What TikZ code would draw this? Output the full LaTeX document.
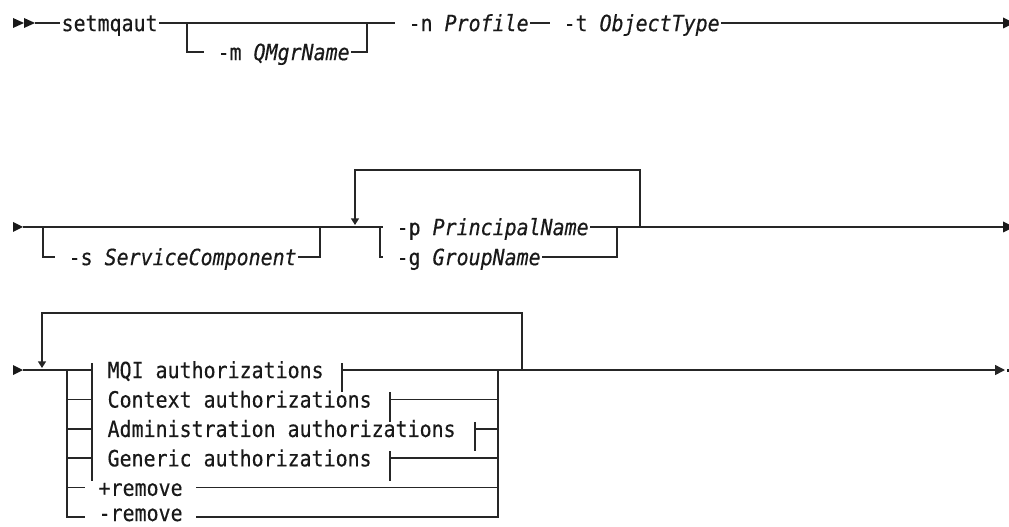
\documentclass[tikz,border=0pt]{standalone}
\usepackage{fontspec}
\setmonofont[FakeStretch=0.89,FakeBold=0.4,ItalicFont={* Oblique}]{DejaVu Sans Mono}
\usetikzlibrary{arrows.meta}

\newcommand{\synvar}[1]{\textit{#1}}
\newcommand{\synsp}{\hphantom{x}}

\tikzset{
  syn/.style={anchor=west, inner xsep=1pt, inner ysep=0pt, text height=15.75pt, text depth=3.5pt,
    text=black!90, font=\fontsize{16.8}{20}\selectfont\ttfamily},
  rail/.style={line width=1.1pt, draw=black!85},
  loopback/.style={rail, -{Triangle[width=6pt,length=5pt]}, shorten >=1.5pt},
  railend/.style={rail, -{Triangle[width=7.5pt,length=7.5pt]}},
}

\begin{document}
\begin{tikzpicture}[x=0.75pt,y=0.75pt,yscale=-1,xscale=1]
\useasboundingbox (0,0) rectangle (1009,527);

%% ---- first line ----
%Shape: double start arrow
\fill[black!90] (13,18) -- (24,23) -- (13,28) -- cycle;
\fill[black!90] (24,18) -- (35,23) -- (24,28) -- cycle;
% Text Nodes
\node[syn] (setm) at (60,23) {setmqaut};
\node[syn] (mq) at (204,52) {\synsp-m \synvar{QMgrName}};
\node[syn] (prof) at (395,23) {\synsp-n \synvar{Profile}};
\node[syn] (otype) at (550,23) {\synsp-t \synvar{ObjectType}};
\coordinate (m1) at (187,23);
\coordinate (m2) at (367,23);
\coordinate (r1end) at (1003,23);
%Straight Lines
\draw[rail] (35,23) -- (setm.west);
\draw[rail] (setm.east) -- (prof.west);
\draw[rail] (m1) |- (mq.west);
\draw[rail] (mq.east) -| (m2);
\draw[rail] (prof.east) -- (otype.west);
\draw[rail] (otype.east) -- (r1end);
\fill[black!90] (r1end) ++(0,-5.5) -- (1009,20.5) -- (1009,25.5) -- ++(-6,3) -- cycle;

%% ---- second line ----
\fill[black!90] (13,222) -- (23,227) -- (13,232) -- cycle;
\node[syn] (svc) at (55,257) {\synsp-s \synvar{ServiceComponent}};
\node[syn] (pp) at (383,227) {\synsp-p \synvar{PrincipalName}};
\node[syn] (gg) at (383,257) {\synsp-g \synvar{GroupName}};
\coordinate (s1) at (43,227);
\coordinate (s2) at (320,227);
\coordinate (lpin) at (355,227);
\coordinate (pg1) at (380,227);
\coordinate (pg2) at (617,227);
\coordinate (lpout) at (640,227);
\coordinate (lptop) at (640,170);
\coordinate (r2end) at (1003,227);
%Straight Lines
\draw[rail] (23,227) -- (pp.west);
\draw[rail] (s1) |- (svc.west);
\draw[rail] (svc.east) -| (s2);
\draw[rail] (pg1) |- (gg.west);
\draw[rail] (pp.east) -- (pg2);
\draw[rail] (gg.east) -| (pg2);
\draw[rail] (pg2) -- (r2end);
\draw[loopback] (lpout) -- (lptop) -| (lpin);
\fill[black!90] (r2end) ++(0,-5.5) -- (1009,224.5) -- (1009,229.5) -- ++(-6,3) -- cycle;

%% ---- third line ----
\fill[black!90] (13,365) -- (23,370) -- (13,375) -- cycle;
\coordinate (lp3in) at (42,370);
\coordinate (c1) at (67,370);
\coordinate (c2) at (498,370);
\coordinate (lp3out) at (522,370);
\coordinate (lp3top) at (522,313);
\coordinate (r3end) at (1005,370);
\draw[rail] (23,370) -- (92,370);
% fragment rows
\foreach \i/\y/\tx/\lbl in {1/370/342/MQI authorizations,
                            2/399.4/390/Context authorizations,
                            3/428.8/475/Administration authorizations,
                            4/458.2/390/Generic authorizations}{
  \node[syn] (frag\i) at (106,\y) {\lbl};
  \coordinate (fl\i) at (92,\y);
  \coordinate (fr\i) at (\tx,\y);
  \draw[rail] (c1 |- fl\i) -- (fl\i);
  \draw[rail] (fl\i) ++(0,-7) -- ++(0,29.4);
  \draw[rail] (fr\i) ++(0,-7) -- ++(0,29.4);
  \draw[rail] (fr\i) -- (c2 |- fr\i);
}
% remove rows
\node[syn] (addrm) at (85,487.6) {\synsp+remove\synsp};
\node[syn, anchor=base west, text depth=0pt] (delrm) at (85,521) {\synsp-remove\synsp};
\coordinate (dl) at (85,517);
\draw[rail] (c1 |- addrm.west) -- (addrm.west);
\draw[rail] (addrm.east) -- (c2 |- addrm.east);
\draw[rail] (c1) |- (dl);
\draw[rail] (delrm.east |- dl) -| (c2);
\draw[railend] (c2) -- (r3end);
\draw[loopback] (lp3out) -- (lp3top) -| (lp3in);
\fill[black!90] (1007,369) rectangle (1009,371.5);

\end{tikzpicture}
\end{document}
